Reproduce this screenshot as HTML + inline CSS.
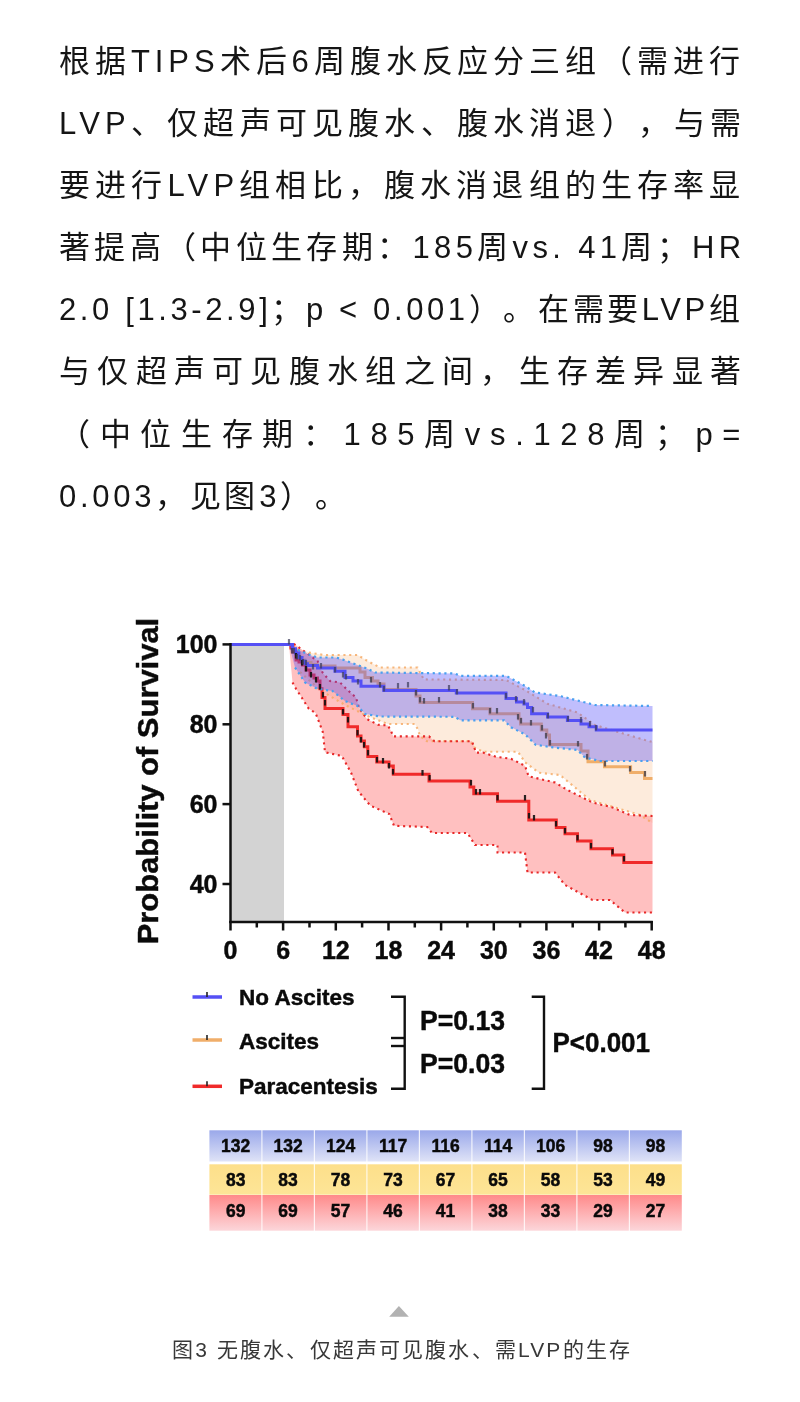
<!DOCTYPE html>
<html lang="zh-CN"><head><meta charset="utf-8"><title>doc</title>
<style>
html,body{margin:0;padding:0;background:#fff;}
body{width:800px;height:1402px;position:relative;overflow:hidden;}
.p{position:absolute;left:58.5px;top:31px;width:690px;font-family:"Liberation Sans",sans-serif;font-size:31px;line-height:62.1px;color:#151515;text-spacing-trim:space-all;}
.l{white-space:nowrap;height:62.1px;}
.p,.cap,svg{will-change:transform;}
.cap{position:absolute;left:1.5px;top:1334px;width:800px;text-align:center;font-family:"Liberation Sans",sans-serif;font-size:21px;line-height:32px;letter-spacing:2.15px;color:#383838;text-spacing-trim:space-all;}
</style></head><body>
<div class="p">
<div class="l" style="letter-spacing:4.950px">根据TIPS术后6周腹水反应分三组（需进行</div>
<div class="l" style="letter-spacing:5.211px">LVP、仅超声可见腹水、腹水消退），与需</div>
<div class="l" style="letter-spacing:5.158px">要进行LVP组相比，腹水消退组的生存率显</div>
<div class="l" style="letter-spacing:4.348px">著提高（中位生存期：185周vs. 41周；HR</div>
<div class="l" style="letter-spacing:3.613px">2.0 [1.3-2.9]；p &lt; 0.001）。在需要LVP组</div>
<div class="l" style="letter-spacing:7.294px">与仅超声可见腹水组之间，生存差异显著</div>
<div class="l" style="letter-spacing:9.650px">（中位生存期：185周vs.128周；p=</div>
<div class="l" style="letter-spacing:3.700px">0.003，见图3）。</div>
</div>
<svg width="800" height="1402" viewBox="0 0 800 1402" style="position:absolute;left:0;top:0">
<rect x="231" y="644.5" width="53" height="277" fill="#d3d3d3"/>
<polygon points="289.0,644.5 308.8,652.5 323.8,655.0 357.5,655.0 367.5,661.0 380.0,667.5 417.5,667.5 423.8,679.4 506.0,680.0 525.0,690.0 547.5,703.8 577.5,712.5 595.0,725.0 645.0,740.0 652.5,742.0 652.5,823.0 640.0,815.0 615.0,807.5 590.0,800.0 560.0,775.0 539.0,772.8 525.0,762.3 518.0,751.8 483.0,751.8 472.5,746.5 471.0,741.3 427.0,741.3 420.0,736.0 418.0,729.6 415.0,724.0 387.8,724.0 368.5,716.5 345.0,705.0 320.0,690.0 300.0,672.0 289.0,644.5" fill="#fdebdc"/>
<polygon points="289.0,644.5 293.8,643.8 317.5,661.0 322.5,672.5 330.0,681.0 340.0,682.5 347.5,690.0 356.0,697.5 359.0,708.0 367.0,719.0 378.0,724.8 387.8,725.4 390.5,730.0 393.3,736.4 429.0,736.4 434.5,741.3 472.0,741.3 476.0,752.6 483.0,752.6 497.0,757.0 511.0,758.8 525.0,765.8 528.6,776.3 555.0,782.5 567.5,790.0 592.5,802.5 612.5,807.5 630.0,815.0 652.5,816.0 652.5,912.5 625.0,912.5 610.0,900.0 592.5,900.0 565.0,885.0 555.0,872.5 527.5,872.5 525.0,852.5 497.5,852.5 497.5,845.0 475.0,845.0 467.5,833.0 432.0,833.0 427.3,827.0 394.0,825.8 389.3,814.0 370.3,805.6 358.4,791.4 351.0,772.5 341.8,756.0 325.0,752.3 322.8,732.0 315.6,713.0 308.8,708.8 302.5,698.8 296.0,688.8 292.5,682.5 289.0,644.5" fill="#ff9696" fill-opacity="0.6"/>
<polyline points="308.8,652.5 323.8,655.0 357.5,655.0 367.5,661.0 380.0,667.5 417.5,667.5 423.8,679.4 506.0,680.0 525.0,690.0 547.5,703.8 577.5,712.5 595.0,725.0 645.0,740.0 652.5,742.0" fill="none" stroke="#f5a860" stroke-opacity="0.8" stroke-width="2.1" stroke-dasharray="2.1 3.7"/>
<polyline points="300.0,672.0 320.0,690.0 345.0,705.0 368.5,716.5 387.8,724.0 415.0,724.0 418.0,729.6 420.0,736.0 427.0,741.3 471.0,741.3 472.5,746.5 483.0,751.8 518.0,751.8 525.0,762.3 539.0,772.8 560.0,775.0 590.0,800.0 615.0,807.5 640.0,815.0 652.5,823.0" fill="none" stroke="#f5a860" stroke-opacity="0.8" stroke-width="2.1" stroke-dasharray="2.1 3.7"/>
<polyline points="293.8,643.8 317.5,661.0 322.5,672.5 330.0,681.0 340.0,682.5 347.5,690.0 356.0,697.5 359.0,708.0 367.0,719.0 378.0,724.8 387.8,725.4 390.5,730.0 393.3,736.4 429.0,736.4 434.5,741.3 472.0,741.3 476.0,752.6 483.0,752.6 497.0,757.0 511.0,758.8 525.0,765.8 528.6,776.3 555.0,782.5 567.5,790.0 592.5,802.5 612.5,807.5 630.0,815.0 652.5,816.0" fill="none" stroke="#e82828" stroke-opacity="1" stroke-width="2.1" stroke-dasharray="2.1 3.7"/>
<polyline points="292.5,682.5 296.0,688.8 302.5,698.8 308.8,708.8 315.6,713.0 322.8,732.0 325.0,752.3 341.8,756.0 351.0,772.5 358.4,791.4 370.3,805.6 389.3,814.0 394.0,825.8 427.3,827.0 432.0,833.0 467.5,833.0 475.0,845.0 497.5,845.0 497.5,852.5 525.0,852.5 527.5,872.5 555.0,872.5 565.0,885.0 592.5,900.0 610.0,900.0 625.0,912.5 652.5,912.5" fill="none" stroke="#e82828" stroke-opacity="1" stroke-width="2.1" stroke-dasharray="2.1 3.7"/>
<polyline points="289.0,644.5 291.0,644.5 291.0,647.0 293.0,647.0 293.0,650.0 296.0,650.0 296.0,654.0 299.0,654.0 299.0,658.0 302.0,658.0 302.0,660.0 305.0,660.0 305.0,662.5 311.0,662.5 311.0,664.5 317.0,664.5 317.0,666.0 335.0,666.0 335.0,668.0 360.0,668.0 360.0,672.0 365.0,672.0 365.0,677.5 372.5,677.5 372.5,681.0 378.0,681.0 378.0,684.0 384.0,684.0 384.0,689.5 416.0,689.5 416.0,696.0 420.0,696.0 420.0,702.5 472.5,702.5 472.5,708.8 490.0,708.8 490.0,713.8 519.0,713.8 519.0,719.0 520.6,719.0 520.6,724.0 541.3,724.0 541.3,730.0 546.8,730.0 546.8,735.0 549.5,735.0 549.5,744.4 581.0,744.4 581.0,751.0 588.0,751.0 588.0,761.8 604.5,761.8 604.5,766.8 630.6,766.8 630.6,772.4 644.5,772.4 644.5,778.4 652.5,778.4" fill="none" stroke="#f0ae6a" stroke-width="3"/>
<polyline points="289.0,644.5 291.0,644.5 291.0,648.0 293.0,648.0 293.0,652.0 296.0,652.0 296.0,660.0 299.0,660.0 299.0,662.0 302.5,662.0 302.5,665.0 306.0,665.0 306.0,670.0 310.0,670.0 310.0,675.0 314.0,675.0 314.0,678.0 317.5,678.0 317.5,681.0 320.0,681.0 320.0,688.8 322.0,688.8 322.0,697.5 325.0,697.5 325.0,708.5 343.0,708.5 343.0,714.4 348.0,714.4 348.0,726.8 357.5,726.8 357.5,736.0 361.0,736.0 361.0,741.0 364.4,741.0 364.4,746.8 367.8,746.8 367.8,756.4 376.8,756.4 376.8,762.0 389.0,762.0 389.0,766.0 393.3,766.0 393.3,774.3 429.0,774.3 429.0,781.0 470.0,781.0 470.0,787.0 473.8,787.0 473.8,793.8 497.5,793.8 497.5,801.3 528.8,801.3 528.8,820.0 556.3,820.0 556.3,827.5 565.0,827.5 565.0,833.8 577.5,833.8 577.5,841.0 591.0,841.0 591.0,848.8 612.5,848.8 612.5,855.0 623.8,855.0 623.8,862.5 652.5,862.5" fill="none" stroke="#f02a2a" stroke-width="3"/>
<polygon points="289.0,644.5 292.5,647.5 310.0,655.0 317.5,657.5 336.0,657.5 342.5,659.4 357.5,665.0 367.5,668.8 375.0,672.5 455.0,673.5 460.0,675.8 506.0,675.8 525.0,686.0 535.0,692.5 560.0,696.0 595.0,705.0 652.5,706.0 652.5,761.0 600.0,761.0 585.0,757.5 577.5,750.0 553.0,747.4 535.6,744.8 525.0,734.3 511.0,727.3 504.0,720.3 460.0,720.3 455.0,716.8 380.0,716.5 365.0,714.0 357.5,706.0 345.0,701.0 332.5,691.0 317.5,688.8 305.0,682.5 295.0,667.5 289.0,644.5" fill="#504bfa" fill-opacity="0.36"/>
<polyline points="292.5,647.5 310.0,655.0 317.5,657.5 336.0,657.5 342.5,659.4 357.5,665.0 367.5,668.8 375.0,672.5 455.0,673.5 460.0,675.8 506.0,675.8 525.0,686.0 535.0,692.5 560.0,696.0 595.0,705.0 652.5,706.0" fill="none" stroke="#4aa0f0" stroke-width="2.2" stroke-dasharray="2.2 3.6"/>
<polyline points="295.0,667.5 305.0,682.5 317.5,688.8 332.5,691.0 345.0,701.0 357.5,706.0 365.0,714.0 380.0,716.5 455.0,716.8 460.0,720.3 504.0,720.3 511.0,727.3 525.0,734.3 535.6,744.8 553.0,747.4 577.5,750.0 585.0,757.5 600.0,761.0 652.5,761.0" fill="none" stroke="#4aa0f0" stroke-width="2.2" stroke-dasharray="2.2 3.6"/>
<polyline points="231.0,644.5 289.4,644.5 289.4,644.5 292.5,644.5 292.5,648.8 295.5,648.8 295.5,653.0 298.8,653.0 298.8,657.5 302.0,657.5 302.0,661.0 305.0,661.0 305.0,663.8 307.5,663.8 307.5,665.6 317.5,665.6 317.5,668.0 335.0,668.0 335.0,671.3 345.0,671.3 345.0,677.5 353.0,677.5 353.0,681.0 361.0,681.0 361.0,686.3 383.8,686.3 383.8,690.6 456.3,690.6 456.3,693.0 506.0,693.0 506.0,698.6 516.5,698.6 516.5,702.0 524.0,702.0 524.0,704.0 527.5,704.0 527.5,707.5 531.6,707.5 531.6,713.7 547.5,713.7 547.5,717.0 567.4,717.0 567.4,720.6 581.0,720.6 581.0,724.0 589.0,724.0 589.0,726.8 596.3,726.8 596.3,730.0 652.5,730.0" fill="none" stroke="#5550f5" stroke-width="3"/>
<rect x="294.9" y="653.0" width="2.2" height="5.5" fill="#111" fill-opacity="0.9"/>
<rect x="300.9" y="660.0" width="2.2" height="5.5" fill="#111" fill-opacity="0.9"/>
<rect x="304.9" y="666.0" width="2.2" height="5.5" fill="#111" fill-opacity="0.9"/>
<rect x="309.9" y="672.0" width="2.2" height="5.5" fill="#111" fill-opacity="0.9"/>
<rect x="314.9" y="677.0" width="2.2" height="5.5" fill="#111" fill-opacity="0.9"/>
<rect x="318.9" y="684.0" width="2.2" height="5.5" fill="#111" fill-opacity="0.9"/>
<rect x="321.9" y="692.0" width="2.2" height="5.5" fill="#111" fill-opacity="0.9"/>
<rect x="323.9" y="700.0" width="2.2" height="5.5" fill="#111" fill-opacity="0.9"/>
<rect x="341.9" y="709.0" width="2.2" height="5.5" fill="#111" fill-opacity="0.9"/>
<rect x="346.9" y="717.0" width="2.2" height="5.5" fill="#111" fill-opacity="0.9"/>
<rect x="356.4" y="730.0" width="2.2" height="5.5" fill="#111" fill-opacity="0.9"/>
<rect x="359.9" y="737.0" width="2.2" height="5.5" fill="#111" fill-opacity="0.9"/>
<rect x="362.9" y="742.0" width="2.2" height="5.5" fill="#111" fill-opacity="0.9"/>
<rect x="366.9" y="750.0" width="2.2" height="5.5" fill="#111" fill-opacity="0.9"/>
<rect x="375.9" y="757.0" width="2.2" height="5.5" fill="#111" fill-opacity="0.9"/>
<rect x="381.9" y="758.0" width="2.2" height="5.5" fill="#111" fill-opacity="0.9"/>
<rect x="387.9" y="763.0" width="2.2" height="5.5" fill="#111" fill-opacity="0.9"/>
<rect x="391.9" y="769.0" width="2.2" height="5.5" fill="#111" fill-opacity="0.9"/>
<rect x="421.4" y="770.0" width="2.2" height="5.5" fill="#111" fill-opacity="0.9"/>
<rect x="428.5" y="775.0" width="2.2" height="5.5" fill="#111" fill-opacity="0.9"/>
<rect x="469.9" y="780.0" width="2.2" height="5.5" fill="#111" fill-opacity="0.9"/>
<rect x="474.9" y="789.0" width="2.2" height="5.5" fill="#111" fill-opacity="0.9"/>
<rect x="478.9" y="789.0" width="2.2" height="5.5" fill="#111" fill-opacity="0.9"/>
<rect x="496.4" y="795.0" width="2.2" height="5.5" fill="#111" fill-opacity="0.9"/>
<rect x="523.9" y="795.0" width="2.2" height="5.5" fill="#111" fill-opacity="0.9"/>
<rect x="527.9" y="813.0" width="2.2" height="5.5" fill="#111" fill-opacity="0.9"/>
<rect x="532.9" y="815.0" width="2.2" height="5.5" fill="#111" fill-opacity="0.9"/>
<rect x="554.9" y="821.0" width="2.2" height="5.5" fill="#111" fill-opacity="0.9"/>
<rect x="563.9" y="828.0" width="2.2" height="5.5" fill="#111" fill-opacity="0.9"/>
<rect x="576.4" y="835.0" width="2.2" height="5.5" fill="#111" fill-opacity="0.9"/>
<rect x="589.9" y="843.0" width="2.2" height="5.5" fill="#111" fill-opacity="0.9"/>
<rect x="611.4" y="849.0" width="2.2" height="5.5" fill="#111" fill-opacity="0.9"/>
<rect x="622.9" y="856.0" width="2.2" height="5.5" fill="#111" fill-opacity="0.9"/>
<rect x="290.9" y="648.0" width="2.2" height="5.5" fill="#3a3a4a" fill-opacity="0.75"/>
<rect x="295.9" y="654.0" width="2.2" height="5.5" fill="#3a3a4a" fill-opacity="0.75"/>
<rect x="301.9" y="659.0" width="2.2" height="5.5" fill="#3a3a4a" fill-opacity="0.75"/>
<rect x="369.9" y="677.0" width="2.2" height="5.5" fill="#3a3a4a" fill-opacity="0.75"/>
<rect x="378.9" y="682.0" width="2.2" height="5.5" fill="#3a3a4a" fill-opacity="0.75"/>
<rect x="414.9" y="690.0" width="2.2" height="5.5" fill="#3a3a4a" fill-opacity="0.75"/>
<rect x="418.9" y="697.0" width="2.2" height="5.5" fill="#3a3a4a" fill-opacity="0.75"/>
<rect x="422.9" y="698.0" width="2.2" height="5.5" fill="#3a3a4a" fill-opacity="0.75"/>
<rect x="437.9" y="697.0" width="2.2" height="5.5" fill="#3a3a4a" fill-opacity="0.75"/>
<rect x="471.9" y="703.0" width="2.2" height="5.5" fill="#3a3a4a" fill-opacity="0.75"/>
<rect x="488.9" y="708.0" width="2.2" height="5.5" fill="#3a3a4a" fill-opacity="0.75"/>
<rect x="495.9" y="708.0" width="2.2" height="5.5" fill="#3a3a4a" fill-opacity="0.75"/>
<rect x="516.9" y="714.0" width="2.2" height="5.5" fill="#3a3a4a" fill-opacity="0.75"/>
<rect x="519.9" y="718.0" width="2.2" height="5.5" fill="#3a3a4a" fill-opacity="0.75"/>
<rect x="529.9" y="720.0" width="2.2" height="5.5" fill="#3a3a4a" fill-opacity="0.75"/>
<rect x="540.9" y="725.0" width="2.2" height="5.5" fill="#3a3a4a" fill-opacity="0.75"/>
<rect x="544.9" y="733.0" width="2.2" height="5.5" fill="#3a3a4a" fill-opacity="0.75"/>
<rect x="548.9" y="740.0" width="2.2" height="5.5" fill="#3a3a4a" fill-opacity="0.75"/>
<rect x="576.9" y="741.0" width="2.2" height="5.5" fill="#3a3a4a" fill-opacity="0.75"/>
<rect x="585.9" y="754.0" width="2.2" height="5.5" fill="#3a3a4a" fill-opacity="0.75"/>
<rect x="603.9" y="761.0" width="2.2" height="5.5" fill="#3a3a4a" fill-opacity="0.75"/>
<rect x="628.9" y="766.0" width="2.2" height="5.5" fill="#3a3a4a" fill-opacity="0.75"/>
<rect x="643.9" y="771.0" width="2.2" height="5.5" fill="#3a3a4a" fill-opacity="0.75"/>
<rect x="287.9" y="639.0" width="2.2" height="5.5" fill="#3a3a5a" fill-opacity="0.7"/>
<rect x="292.9" y="648.0" width="2.2" height="5.5" fill="#3a3a5a" fill-opacity="0.7"/>
<rect x="298.9" y="655.0" width="2.2" height="5.5" fill="#3a3a5a" fill-opacity="0.7"/>
<rect x="304.9" y="660.0" width="2.2" height="5.5" fill="#3a3a5a" fill-opacity="0.7"/>
<rect x="311.9" y="664.0" width="2.2" height="5.5" fill="#3a3a5a" fill-opacity="0.7"/>
<rect x="319.9" y="663.0" width="2.2" height="5.5" fill="#3a3a5a" fill-opacity="0.7"/>
<rect x="333.9" y="667.0" width="2.2" height="5.5" fill="#3a3a5a" fill-opacity="0.7"/>
<rect x="341.9" y="672.0" width="2.2" height="5.5" fill="#3a3a5a" fill-opacity="0.7"/>
<rect x="344.9" y="674.0" width="2.2" height="5.5" fill="#3a3a5a" fill-opacity="0.7"/>
<rect x="356.9" y="679.0" width="2.2" height="5.5" fill="#3a3a5a" fill-opacity="0.7"/>
<rect x="382.9" y="686.0" width="2.2" height="5.5" fill="#3a3a5a" fill-opacity="0.7"/>
<rect x="396.9" y="683.0" width="2.2" height="5.5" fill="#3a3a5a" fill-opacity="0.7"/>
<rect x="406.9" y="682.0" width="2.2" height="5.5" fill="#3a3a5a" fill-opacity="0.7"/>
<rect x="447.9" y="685.0" width="2.2" height="5.5" fill="#3a3a5a" fill-opacity="0.7"/>
<rect x="455.9" y="689.0" width="2.2" height="5.5" fill="#3a3a5a" fill-opacity="0.7"/>
<rect x="504.9" y="693.0" width="2.2" height="5.5" fill="#3a3a5a" fill-opacity="0.7"/>
<rect x="514.9" y="696.0" width="2.2" height="5.5" fill="#3a3a5a" fill-opacity="0.7"/>
<rect x="522.9" y="699.0" width="2.2" height="5.5" fill="#3a3a5a" fill-opacity="0.7"/>
<rect x="531.9" y="707.0" width="2.2" height="5.5" fill="#3a3a5a" fill-opacity="0.7"/>
<rect x="546.9" y="713.0" width="2.2" height="5.5" fill="#3a3a5a" fill-opacity="0.7"/>
<rect x="566.9" y="716.0" width="2.2" height="5.5" fill="#3a3a5a" fill-opacity="0.7"/>
<rect x="579.9" y="717.0" width="2.2" height="5.5" fill="#3a3a5a" fill-opacity="0.7"/>
<rect x="588.9" y="721.0" width="2.2" height="5.5" fill="#3a3a5a" fill-opacity="0.7"/>
<rect x="594.9" y="725.0" width="2.2" height="5.5" fill="#3a3a5a" fill-opacity="0.7"/>
<g stroke="#111" stroke-width="2.5" fill="none">
<line x1="230.5" y1="643" x2="230.5" y2="923"/>
<line x1="229.3" y1="922" x2="652.8" y2="922"/>
<line x1="222.5" y1="644.4" x2="230.5" y2="644.4"/>
<line x1="222.5" y1="724.3" x2="230.5" y2="724.3"/>
<line x1="222.5" y1="804.1" x2="230.5" y2="804.1"/>
<line x1="222.5" y1="884.0" x2="230.5" y2="884.0"/>
<line x1="230.5" y1="921" x2="230.5" y2="930.5"/>
<line x1="256.8" y1="921" x2="256.8" y2="927.5"/>
<line x1="283.1" y1="921" x2="283.1" y2="930.5"/>
<line x1="309.5" y1="921" x2="309.5" y2="927.5"/>
<line x1="335.8" y1="921" x2="335.8" y2="930.5"/>
<line x1="362.1" y1="921" x2="362.1" y2="927.5"/>
<line x1="388.5" y1="921" x2="388.5" y2="930.5"/>
<line x1="414.8" y1="921" x2="414.8" y2="927.5"/>
<line x1="441.1" y1="921" x2="441.1" y2="930.5"/>
<line x1="467.4" y1="921" x2="467.4" y2="927.5"/>
<line x1="493.8" y1="921" x2="493.8" y2="930.5"/>
<line x1="520.1" y1="921" x2="520.1" y2="927.5"/>
<line x1="546.4" y1="921" x2="546.4" y2="930.5"/>
<line x1="572.7" y1="921" x2="572.7" y2="927.5"/>
<line x1="599.1" y1="921" x2="599.1" y2="930.5"/>
<line x1="625.4" y1="921" x2="625.4" y2="927.5"/>
<line x1="651.7" y1="921" x2="651.7" y2="930.5"/>
</g>
<g font-family="'Liberation Sans', sans-serif" font-weight="bold" fill="#0a0a0a" stroke="#0a0a0a" stroke-width="0.45">
<text x="217.5" y="653.4" font-size="25" text-anchor="end">100</text>
<text x="217.5" y="733.3" font-size="25" text-anchor="end">80</text>
<text x="217.5" y="813.1" font-size="25" text-anchor="end">60</text>
<text x="217.5" y="893.0" font-size="25" text-anchor="end">40</text>
<text x="230.5" y="959" font-size="25" text-anchor="middle">0</text>
<text x="283.1" y="959" font-size="25" text-anchor="middle">6</text>
<text x="335.8" y="959" font-size="25" text-anchor="middle">12</text>
<text x="388.4" y="959" font-size="25" text-anchor="middle">18</text>
<text x="441.1" y="959" font-size="25" text-anchor="middle">24</text>
<text x="493.8" y="959" font-size="25" text-anchor="middle">30</text>
<text x="546.4" y="959" font-size="25" text-anchor="middle">36</text>
<text x="599.0" y="959" font-size="25" text-anchor="middle">42</text>
<text x="651.7" y="959" font-size="25" text-anchor="middle">48</text>
<text transform="translate(157.8,944.3) rotate(-90)" font-size="30" textLength="326.5" lengthAdjust="spacingAndGlyphs">Probability of Survival</text>
<line x1="192.5" y1="997" x2="222" y2="997" stroke="#5550f5" stroke-width="3.5"/>
<line x1="207" y1="992" x2="207" y2="997" stroke="#222" stroke-width="1.6"/>
<text x="239" y="1005" font-size="22.5">No Ascites</text>
<line x1="192.5" y1="1040" x2="222" y2="1040" stroke="#f0ae6a" stroke-width="3.5"/>
<line x1="207" y1="1035" x2="207" y2="1040" stroke="#222" stroke-width="1.6"/>
<text x="239" y="1048.8" font-size="22.5">Ascites</text>
<line x1="192.5" y1="1086.3" x2="222" y2="1086.3" stroke="#f02a2a" stroke-width="3.5"/>
<line x1="207" y1="1081.3" x2="207" y2="1086.3" stroke="#222" stroke-width="1.6"/>
<text x="239" y="1093.5" font-size="22.5">Paracentesis</text>
</g>
<g stroke="#111" stroke-width="2.4" fill="none">
<polyline points="391,996.7 404.7,996.7 404.7,1088.8 391,1088.8"/>
<line x1="391" y1="1038" x2="404" y2="1038"/><line x1="391" y1="1046" x2="404" y2="1046"/>
<polyline points="531.7,996.7 544,996.7 544,1088.8 531.7,1088.8"/>
</g>
<g font-family="'Liberation Sans', sans-serif" font-weight="bold" fill="#0a0a0a" stroke="#0a0a0a" stroke-width="0.45" font-size="27">
<text x="420" y="1030.3" textLength="85" lengthAdjust="spacingAndGlyphs">P=0.13</text>
<text x="420" y="1072.6" textLength="85" lengthAdjust="spacingAndGlyphs">P=0.03</text>
<text x="552.5" y="1051.5" textLength="97.5" lengthAdjust="spacingAndGlyphs">P&lt;0.001</text>
</g>
<defs>
<linearGradient id="g1" x1="0" y1="0" x2="0" y2="1"><stop offset="0" stop-color="#9aa8ea"/><stop offset="1" stop-color="#dfe3f7"/></linearGradient>
<linearGradient id="g2" x1="0" y1="0" x2="0" y2="1"><stop offset="0" stop-color="#fddf8a"/><stop offset="1" stop-color="#fde597"/></linearGradient>
<linearGradient id="g3" x1="0" y1="0" x2="0" y2="1"><stop offset="0" stop-color="#ff8a8a"/><stop offset="1" stop-color="#fcd6da"/></linearGradient>
</defs>
<g font-family="'Liberation Sans', sans-serif" font-weight="bold" fill="#0a0a0a" stroke="#0a0a0a" stroke-width="0.45" font-size="17.5" text-anchor="middle">
<rect x="209.4" y="1130.3" width="472.4" height="31.2" fill="url(#g1)" stroke="none"/>
<text x="235.7" y="1152.2">132</text>
<text x="288.1" y="1152.2">132</text>
<text x="340.6" y="1152.2">124</text>
<text x="393.1" y="1152.2">117</text>
<text x="445.6" y="1152.2">116</text>
<text x="498.1" y="1152.2">114</text>
<text x="550.6" y="1152.2">106</text>
<text x="603.1" y="1152.2">98</text>
<text x="655.6" y="1152.2">98</text>
<rect x="209.4" y="1164.3" width="472.4" height="30.4" fill="url(#g2)" stroke="none"/>
<text x="235.7" y="1185.8">83</text>
<text x="288.1" y="1185.8">83</text>
<text x="340.6" y="1185.8">78</text>
<text x="393.1" y="1185.8">73</text>
<text x="445.6" y="1185.8">67</text>
<text x="498.1" y="1185.8">65</text>
<text x="550.6" y="1185.8">58</text>
<text x="603.1" y="1185.8">53</text>
<text x="655.6" y="1185.8">49</text>
<rect x="209.4" y="1195" width="472.4" height="35.7" fill="url(#g3)" stroke="none"/>
<text x="235.7" y="1216.7">69</text>
<text x="288.1" y="1216.7">69</text>
<text x="340.6" y="1216.7">57</text>
<text x="393.1" y="1216.7">46</text>
<text x="445.6" y="1216.7">41</text>
<text x="498.1" y="1216.7">38</text>
<text x="550.6" y="1216.7">33</text>
<text x="603.1" y="1216.7">29</text>
<text x="655.6" y="1216.7">27</text>
</g>
<line x1="261.9" y1="1130" x2="261.9" y2="1231" stroke="#fff" stroke-opacity="0.8" stroke-width="1.2"/>
<line x1="314.4" y1="1130" x2="314.4" y2="1231" stroke="#fff" stroke-opacity="0.8" stroke-width="1.2"/>
<line x1="366.9" y1="1130" x2="366.9" y2="1231" stroke="#fff" stroke-opacity="0.8" stroke-width="1.2"/>
<line x1="419.4" y1="1130" x2="419.4" y2="1231" stroke="#fff" stroke-opacity="0.8" stroke-width="1.2"/>
<line x1="471.9" y1="1130" x2="471.9" y2="1231" stroke="#fff" stroke-opacity="0.8" stroke-width="1.2"/>
<line x1="524.4" y1="1130" x2="524.4" y2="1231" stroke="#fff" stroke-opacity="0.8" stroke-width="1.2"/>
<line x1="576.9" y1="1130" x2="576.9" y2="1231" stroke="#fff" stroke-opacity="0.8" stroke-width="1.2"/>
<line x1="629.4" y1="1130" x2="629.4" y2="1231" stroke="#fff" stroke-opacity="0.8" stroke-width="1.2"/>
<polygon points="389.2,1316.8 398.9,1306 408.8,1316.8" fill="#b2b2b2"/>
</svg>
<div class="cap">图3 无腹水、仅超声可见腹水、需LVP的生存</div>
</body></html>
